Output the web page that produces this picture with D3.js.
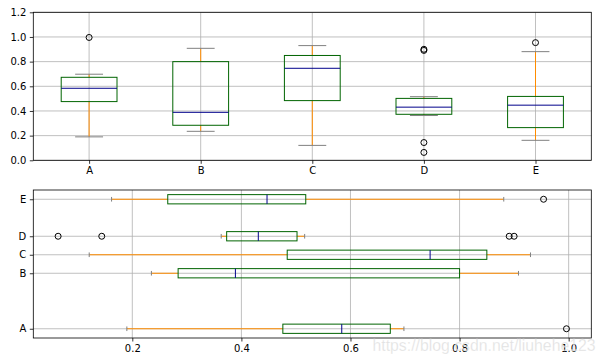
<!DOCTYPE html>
<html><head><meta charset="utf-8">
<script src="https://cdn.jsdelivr.net/npm/d3@7"></script>
<style>
body{margin:0;background:#fff;}
svg{display:block;}
.tick text{font-family:"DejaVu Sans",sans-serif;}
</style></head>
<body>
<svg id="chart" width="606" height="364"></svg>
<script>
const categories = ["A","B","C","D","E"];
const whiskerLow  = [0.190, 0.235, 0.121, 0.363, 0.162];
const q1          = [0.476, 0.284, 0.484, 0.373, 0.265];
const median      = [0.584, 0.389, 0.746, 0.431, 0.447];
const q3          = [0.673, 0.800, 0.850, 0.502, 0.518];
const whiskerHigh = [0.698, 0.908, 0.930, 0.516, 0.881];
const outliers    = [[0.996], [], [], [0.064, 0.144, 0.891, 0.900], [0.954]];
const verticalPositions = [1, 2, 3, 4, 5];
const horizontalPositions = [1, 4, 5, 6, 8];
const valueTicksTop = [0.0, 0.2, 0.4, 0.6, 0.8, 1.0, 1.2];
const valueTicksBottom = [0.2, 0.4, 0.6, 0.8, 1.0];
const watermark = "https://blog.csdn.net/liuhehe123";

const colors = {box:"#006400", whisker:"#FF8C00", median:"#00008B", cap:"#808080", grid:"#b0b0b0"};

const data = categories.map((c,i)=>({cat:c, lo:whiskerLow[i], q1:q1[i], med:median[i], q3:q3[i], hi:whiskerHigh[i], out:outliers[i], vp:verticalPositions[i], hp:horizontalPositions[i]}));

const svg = d3.select("#chart");
const L = 33.3, R = 591.3;

// ---------- Top: vertical ----------
const topAx = {t:12.3, b:160.3};
const xT = d3.scaleLinear().domain([0.5,5.5]).range([L,R]);
const yT = d3.scaleLinear().domain([0,1.2]).range([topAx.b, topAx.t]);
const gT = svg.append("g");
const boxW = 0.5, capW = 0.25;

gT.append("g").selectAll("line").data(verticalPositions).join("line")
  .attr("x1",d=>xT(d)).attr("x2",d=>xT(d)).attr("y1",topAx.t).attr("y2",topAx.b)
  .attr("stroke",colors.grid).attr("stroke-width",0.8);
gT.append("g").selectAll("line").data(valueTicksTop).join("line")
  .attr("x1",L).attr("x2",R).attr("y1",d=>yT(d)).attr("y2",d=>yT(d))
  .attr("stroke",colors.grid).attr("stroke-width",0.8);

const bT = gT.append("g").selectAll("g").data(data).join("g");
bT.append("line").attr("x1",d=>xT(d.vp)).attr("x2",d=>xT(d.vp)).attr("y1",d=>yT(d.lo)).attr("y2",d=>yT(d.q1)).attr("stroke",colors.whisker).attr("stroke-width",1);
bT.append("line").attr("x1",d=>xT(d.vp)).attr("x2",d=>xT(d.vp)).attr("y1",d=>yT(d.q3)).attr("y2",d=>yT(d.hi)).attr("stroke",colors.whisker).attr("stroke-width",1);
bT.append("line").attr("x1",d=>xT(d.vp-capW/2)).attr("x2",d=>xT(d.vp+capW/2)).attr("y1",d=>yT(d.lo)).attr("y2",d=>yT(d.lo)).attr("stroke",colors.cap).attr("stroke-width",1);
bT.append("line").attr("x1",d=>xT(d.vp-capW/2)).attr("x2",d=>xT(d.vp+capW/2)).attr("y1",d=>yT(d.hi)).attr("y2",d=>yT(d.hi)).attr("stroke",colors.cap).attr("stroke-width",1);
bT.append("rect").attr("x",d=>xT(d.vp-boxW/2)).attr("width",d=>xT(d.vp+boxW/2)-xT(d.vp-boxW/2))
  .attr("y",d=>yT(d.q3)).attr("height",d=>yT(d.q1)-yT(d.q3)).attr("fill","none").attr("stroke",colors.box).attr("stroke-width",1);
bT.append("line").attr("x1",d=>xT(d.vp-boxW/2)).attr("x2",d=>xT(d.vp+boxW/2)).attr("y1",d=>yT(d.med)).attr("y2",d=>yT(d.med)).attr("stroke",colors.median).attr("stroke-width",1);
bT.selectAll("circle").data(d=>d.out.map(v=>({v,p:d.vp}))).join("circle")
  .attr("cx",d=>xT(d.p)).attr("cy",d=>yT(d.v)).attr("r",3).attr("fill","none").attr("stroke","#000").attr("stroke-width",1);

gT.append("g").attr("transform",`translate(0,${topAx.b})`).call(d3.axisBottom(xT).tickValues(verticalPositions).tickFormat((d,i)=>categories[i]).tickSize(3.5).tickPadding(3.5));
gT.append("g").attr("transform",`translate(${L},0)`).call(d3.axisLeft(yT).tickValues(valueTicksTop).tickFormat(d3.format(".1f")).tickSize(3.5).tickPadding(3.5));
gT.append("rect").attr("x",L).attr("y",topAx.t).attr("width",R-L).attr("height",topAx.b-topAx.t).attr("fill","none").attr("stroke","#000").attr("stroke-width",0.8);

// ---------- Bottom: horizontal ----------
const botAx = {t:190, b:338};
const xB = d3.scaleLinear().domain([0.0185,1.0415]).range([L,R]);
const yB = d3.scaleLinear().domain([0.5,8.5]).range([botAx.b, botAx.t]);
const gB = svg.append("g");

gB.append("g").selectAll("line").data(valueTicksBottom).join("line")
  .attr("x1",d=>xB(d)).attr("x2",d=>xB(d)).attr("y1",botAx.t).attr("y2",botAx.b)
  .attr("stroke",colors.grid).attr("stroke-width",0.8);
gB.append("g").selectAll("line").data(horizontalPositions).join("line")
  .attr("x1",L).attr("x2",R).attr("y1",d=>yB(d)).attr("y2",d=>yB(d))
  .attr("stroke",colors.grid).attr("stroke-width",0.8);

const bB = gB.append("g").selectAll("g").data(data).join("g");
bB.append("line").attr("y1",d=>yB(d.hp)).attr("y2",d=>yB(d.hp)).attr("x1",d=>xB(d.lo)).attr("x2",d=>xB(d.q1)).attr("stroke",colors.whisker).attr("stroke-width",1);
bB.append("line").attr("y1",d=>yB(d.hp)).attr("y2",d=>yB(d.hp)).attr("x1",d=>xB(d.q3)).attr("x2",d=>xB(d.hi)).attr("stroke",colors.whisker).attr("stroke-width",1);
bB.append("line").attr("y1",d=>yB(d.hp-capW/2)).attr("y2",d=>yB(d.hp+capW/2)).attr("x1",d=>xB(d.lo)).attr("x2",d=>xB(d.lo)).attr("stroke",colors.cap).attr("stroke-width",1);
bB.append("line").attr("y1",d=>yB(d.hp-capW/2)).attr("y2",d=>yB(d.hp+capW/2)).attr("x1",d=>xB(d.hi)).attr("x2",d=>xB(d.hi)).attr("stroke",colors.cap).attr("stroke-width",1);
bB.append("rect").attr("y",d=>yB(d.hp+boxW/2)).attr("height",d=>yB(d.hp-boxW/2)-yB(d.hp+boxW/2))
  .attr("x",d=>xB(d.q1)).attr("width",d=>xB(d.q3)-xB(d.q1)).attr("fill","none").attr("stroke",colors.box).attr("stroke-width",1);
bB.append("line").attr("y1",d=>yB(d.hp-boxW/2)).attr("y2",d=>yB(d.hp+boxW/2)).attr("x1",d=>xB(d.med)).attr("x2",d=>xB(d.med)).attr("stroke",colors.median).attr("stroke-width",1);
bB.selectAll("circle").data(d=>d.out.map(v=>({v,p:d.hp}))).join("circle")
  .attr("cy",d=>yB(d.p)).attr("cx",d=>xB(d.v)).attr("r",3).attr("fill","none").attr("stroke","#000").attr("stroke-width",1);

gB.append("g").attr("transform",`translate(0,${botAx.b})`).call(d3.axisBottom(xB).tickValues(valueTicksBottom).tickFormat(d3.format(".1f")).tickSize(3.5).tickPadding(3.5));
gB.append("g").attr("transform",`translate(${L},0)`).call(d3.axisLeft(yB).tickValues(horizontalPositions).tickFormat((d,i)=>categories[i]).tickSize(3.5).tickPadding(3.5));
gB.append("rect").attr("x",L).attr("y",botAx.t).attr("width",R-L).attr("height",botAx.b-botAx.t).attr("fill","none").attr("stroke","#000").attr("stroke-width",0.8);

svg.selectAll(".domain").remove();
svg.selectAll(".tick line").attr("stroke","#000").attr("stroke-width",0.8);
svg.selectAll(".tick text").style("font-family","'DejaVu Sans', sans-serif").style("font-size","10px").attr("fill","#000");

// watermark
svg.append("text").attr("x",372.5).attr("y",351).text(watermark)
  .style("font-family","'Liberation Sans', Arial, sans-serif").style("font-size","15.8px")
  .attr("fill","#d8d8d8").attr("fill-opacity",0.75)
  .attr("stroke","#ffffff").attr("stroke-width",0.4).attr("stroke-opacity",0.6);
</script>
</body></html>
